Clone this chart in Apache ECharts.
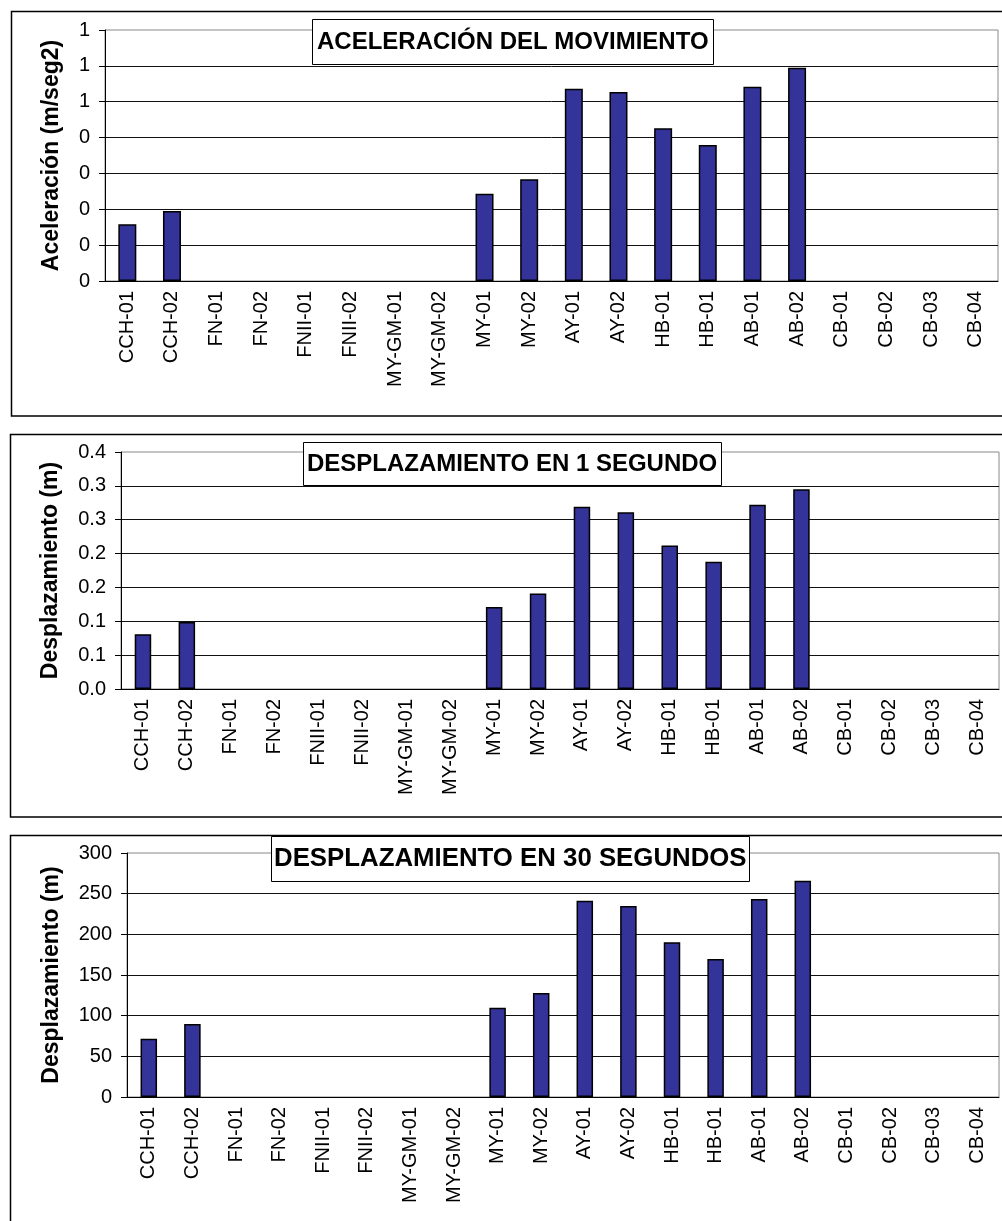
<!DOCTYPE html>
<html>
<head>
<meta charset="utf-8">
<title>Aceleración y desplazamiento</title>
<script src="https://cdn.jsdelivr.net/npm/echarts@6/dist/echarts.min.js"></script>
<style>
    body { margin: 0; background: #fff; }
    #main { width: 1002px; height: 1221px; }
</style>
</head>
<body>
<div id="main"></div>
<script>
    // estaciones
    const estaciones = ['CCH-01', 'CCH-02', 'FN-01', 'FN-02', 'FNII-01', 'FNII-02', 'MY-GM-01', 'MY-GM-02',
        'MY-01', 'MY-02', 'AY-01', 'AY-02', 'HB-01', 'HB-01', 'AB-01', 'AB-02', 'CB-01', 'CB-02', 'CB-03', 'CB-04'];

    // aceleración (m/seg2)
    const aceleracion = [0.158, 0.195, null, null, null, null, null, null,
        0.243, 0.284, 0.536, 0.527, 0.426, 0.379, 0.542, 0.595, null, null, null, null];
    // desplazamiento en 1 segundo (m)
    const despl1 = [0.081, 0.099, null, null, null, null, null, null,
        0.121, 0.141, 0.269, 0.261, 0.212, 0.188, 0.272, 0.295, null, null, null, null];
    // desplazamiento en 30 segundos (m)
    const despl30 = [71.7, 89.8, null, null, null, null, null, null,
        109.8, 127.9, 241.4, 234.8, 190.2, 169.7, 243.4, 266.0, null, null, null, null];

    // etiquetas del eje Y tal como salen en la hoja
    const ticks1 = ['0', '0', '0', '0', '0', '1', '1', '1'];
    const ticks2 = ['0.0', '0.1', '0.1', '0.2', '0.2', '0.3', '0.3', '0.4'];
    const ticks3 = ['0', '50', '100', '150', '200', '250', '300'];

    const fuente = "'Liberation Sans', Arial, sans-serif";

    const myChart = echarts.init(document.getElementById('main'));

    function ejeX(i){
        return {
            type: 'category',
            gridIndex: i,
            data: estaciones,
            axisLine: { lineStyle: { color: '#000', width: 1 } },
            axisTick: { length: 6, lineStyle: { color: '#000' } },
            axisLabel: { interval: 0, rotate: 90, margin: 10, color: '#000', fontSize: 20, fontFamily: fuente },
            splitLine: { show: false }
        };
    }

    function ejeY(i, nombre, max, paso, etiquetas, gap){
        return {
            type: 'value',
            gridIndex: i,
            min: 0,
            max: max,
            interval: paso,
            name: nombre,
            nameLocation: 'middle',
            nameGap: gap,
            nameTextStyle: { color: '#000', fontSize: 23, fontWeight: 'bold', fontFamily: fuente },
            axisLine: { show: true, lineStyle: { color: '#000', width: 1 } },
            axisTick: { show: true, length: 6, lineStyle: { color: '#000' } },
            axisLabel: {
                margin: 15, color: '#000', fontSize: 20, fontFamily: fuente,
                formatter: function(v, idx){ return etiquetas[idx]; }
            },
            splitLine: { show: true, showMaxLine: false, lineStyle: { color: '#111', width: 1 } }
        };
    }

    function barras(i, datos){
        return {
            type: 'bar',
            xAxisIndex: i,
            yAxisIndex: i,
            data: datos,
            barWidth: i === 0 ? 18 : 16.5,
            itemStyle: { color: '#333399', borderColor: '#000', borderWidth: 1.5 },
            animation: false
        };
    }

    function cajaTitulo(texto, left, top, size, lh, pad){
        return {
            text: texto,
            left: left,
            top: top,
            padding: pad,
            backgroundColor: '#fff',
            borderColor: '#000',
            borderWidth: 1,
            textStyle: { color: '#000', fontSize: size, fontWeight: 'bold', fontFamily: fuente, lineHeight: lh }
        };
    }

    const option = {
        backgroundColor: '#fff',
        animation: false,
        title: [
            cajaTitulo('ACELERACIÓN DEL MOVIMIENTO', 312, 19, 24, 28, [9, 5]),
            cajaTitulo('DESPLAZAMIENTO EN 1 SEGUNDO', 303, 442, 24, 28, [8, 4]),
            cajaTitulo('DESPLAZAMIENTO EN 30 SEGUNDOS', 271, 836, 25.8, 30, [8, 3])
        ],
        grid: [
            { left: 105, top: 30, width: 893, height: 251, show: true, borderColor: '#888', borderWidth: 1, backgroundColor: 'transparent' },
            { left: 121, top: 452, width: 878, height: 237, show: true, borderColor: '#888', borderWidth: 1, backgroundColor: 'transparent' },
            { left: 127, top: 853, width: 872, height: 244, show: true, borderColor: '#888', borderWidth: 1, backgroundColor: 'transparent' }
        ],
        xAxis: [ejeX(0), ejeX(1), ejeX(2)],
        yAxis: [
            ejeY(0, 'Aceleración (m/seg2)', 0.7, 0.1, ticks1, 42),
            ejeY(1, 'Desplazamiento (m)', 0.35, 0.05, ticks2, 59),
            ejeY(2, 'Desplazamiento (m)', 300, 50, ticks3, 64)
        ],
        series: [barras(0, aceleracion), barras(1, despl1), barras(2, despl30)],
        graphic: [
            { type: 'rect', z: -10, shape: { x: 11.5, y: 11.5, width: 1010, height: 404.5 }, style: { fill: 'none', stroke: '#000', lineWidth: 1.5 } },
            { type: 'rect', z: -10, shape: { x: 10.5, y: 434.5, width: 1010, height: 382.5 }, style: { fill: 'none', stroke: '#000', lineWidth: 1.5 } },
            { type: 'rect', z: -10, shape: { x: 10.5, y: 835.5, width: 1010, height: 420 }, style: { fill: 'none', stroke: '#000', lineWidth: 1.5 } }
        ]
    };

    myChart.setOption(option);
</script>
</body>
</html>
